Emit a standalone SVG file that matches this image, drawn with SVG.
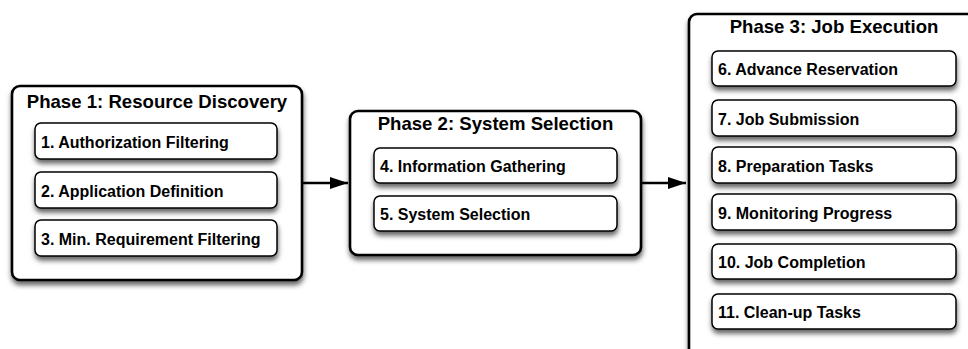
<svg xmlns="http://www.w3.org/2000/svg" width="968" height="349" viewBox="0 0 968 349">
  <style>
    .phase { fill: #fff; stroke: #000; stroke-width: 2.6; filter: url(#shadow); }
    .step { fill: #fff; stroke: #000; stroke-width: 1.5; filter: url(#shadow); }
    .title { font-family: "Liberation Sans", Arial, Helvetica, sans-serif; font-weight: bold; font-size: 18.6px; fill: #000; text-anchor: middle; }
    .label { font-family: "Liberation Sans", Arial, Helvetica, sans-serif; font-weight: bold; font-size: 16px; fill: #000; }
    .link { stroke: #000; stroke-width: 2.5; fill: none; marker-end: url(#head); }
  </style>
  <defs>
    <filter id="shadow" x="-10%" y="-20%" width="125%" height="150%">
      <feDropShadow dx="0.5" dy="4" stdDeviation="2.8" flood-color="#000" flood-opacity="0.6"/>
    </filter>
    <marker id="head" viewBox="0 0 18 12" refX="18" refY="6" markerWidth="18" markerHeight="12" markerUnits="userSpaceOnUse" orient="auto">
      <path d="M0,0 L18,6 L0,12 Z" fill="#000"/>
    </marker>
  </defs>
  <rect width="968" height="349" fill="#fff"/>

  <!-- Phase 1 -->
  <g id="phase1">
    <rect class="phase" x="12" y="86" width="290" height="194" rx="8"/>
    <text class="title" x="157" y="108">Phase 1: Resource Discovery</text>
  </g>
  <g id="step1">
    <rect class="step" x="35" y="123" width="242" height="36" rx="6"/>
    <text class="label" x="41" y="147.5">1. Authorization Filtering</text>
  </g>
  <g id="step2">
    <rect class="step" x="35" y="172" width="242" height="36" rx="6"/>
    <text class="label" x="41" y="196.5">2. Application Definition</text>
  </g>
  <g id="step3">
    <rect class="step" x="35" y="220" width="242" height="36" rx="6"/>
    <text class="label" x="41" y="244.5">3. Min. Requirement Filtering</text>
  </g>

  <!-- Phase 2 -->
  <g id="phase2">
    <rect class="phase" x="350" y="111" width="291" height="144" rx="8"/>
    <text class="title" x="495.5" y="130">Phase 2: System Selection</text>
  </g>
  <g id="step4">
    <rect class="step" x="374" y="148" width="243" height="35" rx="6"/>
    <text class="label" x="380" y="172">4. Information Gathering</text>
  </g>
  <g id="step5">
    <rect class="step" x="374" y="196" width="243" height="35" rx="6"/>
    <text class="label" x="380" y="220">5. System Selection</text>
  </g>

  <!-- Phase 3 -->
  <g id="phase3">
    <rect class="phase" x="689" y="14" width="290" height="350" rx="8"/>
    <text class="title" x="834" y="33">Phase 3: Job Execution</text>
  </g>
  <g id="step6">
    <rect class="step" x="712" y="51" width="244" height="35" rx="6"/>
    <text class="label" x="718" y="75">6. Advance Reservation</text>
  </g>
  <g id="step7">
    <rect class="step" x="712" y="100" width="244" height="36" rx="6"/>
    <text class="label" x="718" y="124.5">7. Job Submission</text>
  </g>
  <g id="step8">
    <rect class="step" x="712" y="147" width="244" height="36" rx="6"/>
    <text class="label" x="718" y="171.5">8. Preparation Tasks</text>
  </g>
  <g id="step9">
    <rect class="step" x="712" y="194" width="244" height="36" rx="6"/>
    <text class="label" x="718" y="218.5">9. Monitoring Progress</text>
  </g>
  <g id="step10">
    <rect class="step" x="712" y="244" width="244" height="35" rx="6"/>
    <text class="label" x="718" y="268">10. Job Completion</text>
  </g>
  <g id="step11">
    <rect class="step" x="712" y="294" width="244" height="35" rx="6"/>
    <text class="label" x="718" y="318">11. Clean-up Tasks</text>
  </g>

  <!-- Connectors -->
  <g id="connectors">
    <line class="link" x1="303" y1="183" x2="348" y2="183"/>
    <line class="link" x1="642" y1="183" x2="686" y2="183"/>
  </g>
</svg>
